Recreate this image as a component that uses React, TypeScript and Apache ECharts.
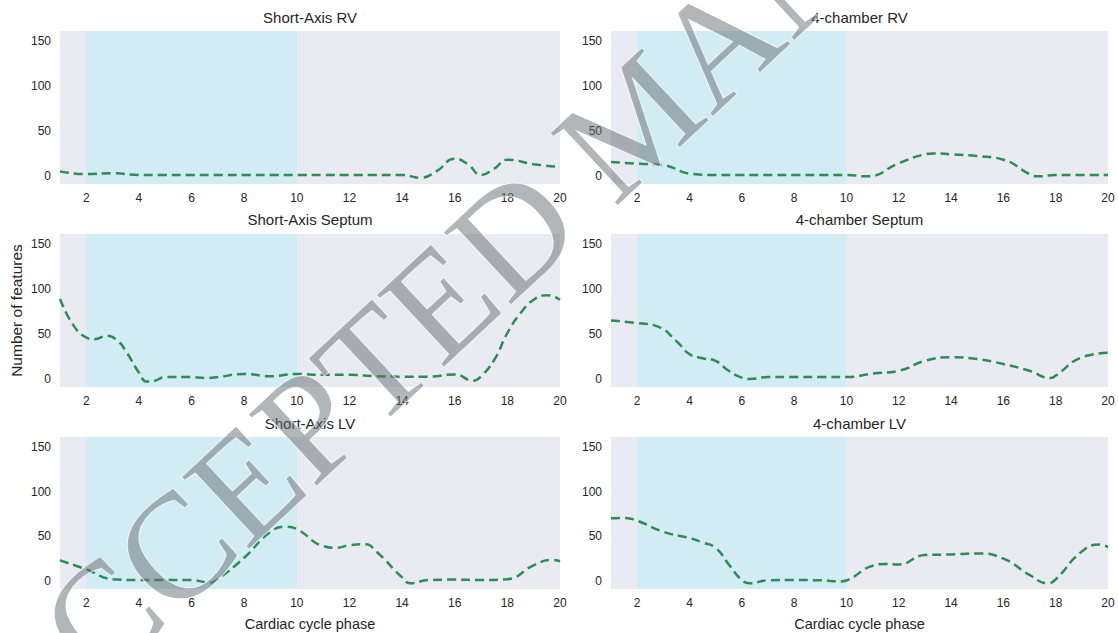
import React, { useEffect, useRef } from "react";
import * as echarts from "echarts";

// ---- data ----
const titles = [
  "Short-Axis RV",
  "4-chamber RV",
  "Short-Axis Septum",
  "4-chamber Septum",
  "Short-Axis LV",
  "4-chamber LV",
];

const phaseTicks = [2, 4, 6, 8, 10, 12, 14, 16, 18, 20];
const featureTicks = [0, 50, 100, 150];
const highlightPhases = [2, 10];

const saRvX = [1, 2, 3, 4, 5, 6, 7, 8, 9, 10, 11, 12, 13, 14, 14.7, 15.3, 16, 16.5, 17, 17.5, 18, 19, 20];
const saRvY = [5, 2, 3, 1, 1, 1, 1, 1, 1, 1, 1, 1, 1, 1, -2, 5, 19, 13, 1, 8, 18, 13, 10];

const chRvX = [1, 2, 3, 4, 5, 6, 7, 8, 9, 10, 10.8, 12, 13, 13.3, 14, 15, 16, 17, 17.3, 18, 19, 20];
const chRvY = [15.5, 13.6, 12, 2.6, 1, 1, 1, 1, 1, 1, -0.5, 14, 24, 25, 24, 22, 18, 2, -0.5, 1, 1, 1];

const saSeX = [1, 1.5, 2, 2.3, 2.8, 3.2, 3.5, 4, 4.3, 4.6, 5, 6, 6.5, 7, 8, 9, 10, 11, 12, 13, 14, 15, 16, 16.7, 17, 17.5, 18, 18.5, 19, 19.5, 20];
const saSeY = [89, 60, 46, 44, 48, 42, 31, 7, -3, -2, 2, 2, 1, 2, 5.5, 3, 5.5, 4.5, 4.5, 3, 2.5, 2.5, 5, -2, 3, 21, 51, 73, 88, 93, 88];

const chSeX = [1, 2, 2.8, 3.5, 4, 4.5, 5, 5.5, 6, 6.3, 7, 8, 9, 10, 11, 12, 13, 14, 15, 16, 17, 17.8, 18, 19, 20];
const chSeY = [65, 62, 58, 42, 27.5, 23, 20, 9, 1.5, 0, 2, 2, 2, 2, 6, 9, 20, 24, 22, 16.5, 9, 1, 3.7, 24, 29];

const saLvX = [1, 2, 3, 4, 5, 6, 6.7, 7, 8, 9, 9.6, 10, 11, 11.5, 12, 12.6, 13, 14, 14.3, 15, 16, 17, 18, 19, 19.7, 20];
const saLvY = [23, 13, 2, 1, 1, 1, -2, 2, 26, 55, 60.7, 58, 39, 37, 40, 41, 33.5, 4, -2.6, 1, 1.5, 1, 2, 17.5, 23.5, 22];

const chLvX = [1, 1.5, 2, 3, 4, 4.5, 5, 5.5, 6, 6.3, 7, 8, 9, 9.8, 10, 11, 11.5, 12, 13, 14, 15, 16, 17, 17.7, 18, 19, 19.7, 20];
const chLvY = [70, 70.5, 67.4, 55, 48, 43, 37, 18.5, 1, -2.6, 0.7, 1, 0.7, -0.5, 0.5, 17, 19, 18.5, 29, 29.6, 30.7, 25, 6.7, -2.6, 1.8, 33, 40.7, 37.8];

const panelX = [saRvX, chRvX, saSeX, chSeX, saLvX, chLvX];
const panelY = [saRvY, chRvY, saSeY, chSeY, saLvY, chLvY];

const xAxisName = "Cardiac cycle phase";
const yAxisName = "Number of features";
const watermark = "ACCEPTED MANUSCRIPT";

// ---- layout ----
const cols = [
  { left: 60, width: 500 },
  { left: 611, width: 497 },
];
const rows = [
  { top: 31, height: 153, titleY: 18 },
  { top: 234, height: 153, titleY: 220 },
  { top: 437, height: 152, titleY: 424 },
];

const FONT = "'Liberation Sans', Arial, sans-serif";
const TEXT = "#262626";

export default function App() {
  const ref = useRef<HTMLDivElement>(null);

  useEffect(() => {
    if (!ref.current) return;
    const chart = echarts.init(ref.current, undefined, { renderer: "svg" });

    const grids: any[] = [];
    const xAxes: any[] = [];
    const yAxes: any[] = [];
    const series: any[] = [];
    const title: any[] = [];

    for (let i = 0; i < 6; i++) {
      const r = rows[Math.floor(i / 2)];
      const c = cols[i % 2];
      const isBottom = Math.floor(i / 2) === 2;
      const isMidLeft = i === 2;
      grids.push({
        left: c.left,
        top: r.top,
        width: c.width,
        height: r.height,
        show: true,
        backgroundColor: "#EAEAF2",
        borderWidth: 0,
      });
      xAxes.push({
        type: "value",
        gridIndex: i,
        min: 1,
        max: 20,
        axisLine: { show: false },
        axisTick: { show: false },
        splitLine: { show: false },
        axisLabel: {
          customValues: phaseTicks,
          color: TEXT,
          fontSize: 12,
          fontFamily: FONT,
          margin: 8,
        },
        name: isBottom ? xAxisName : "",
        nameLocation: "middle",
        nameGap: 27,
        nameTextStyle: { color: TEXT, fontSize: 14.5, fontFamily: FONT },
      });
      yAxes.push({
        type: "value",
        gridIndex: i,
        min: -9,
        max: 161,
        axisLine: { show: false },
        axisTick: { show: false },
        splitLine: { show: false },
        axisLabel: {
          customValues: featureTicks,
          color: TEXT,
          fontSize: 12,
          fontFamily: FONT,
          margin: 9,
        },
        name: isMidLeft ? yAxisName : "",
        nameLocation: "middle",
        nameGap: 36,
        nameTextStyle: { color: TEXT, fontSize: 15.5, fontFamily: FONT },
      });
      const data = panelX[i].map((x, k) => [x, panelY[i][k]]);
      series.push({
        type: "line",
        xAxisIndex: i,
        yAxisIndex: i,
        data,
        smooth: 0.5,
        showSymbol: false,
        lineStyle: { color: "#2E8B57", width: 2.5, type: [9, 5] },
        markArea: {
          silent: true,
          itemStyle: { color: "#D2ECF3" },
          data: [[{ xAxis: highlightPhases[0] }, { xAxis: highlightPhases[1] }]],
        },
      });
      title.push({
        text: titles[i],
        left: c.left + c.width / 2,
        top: r.titleY - 8,
        textAlign: "center",
        padding: 0,
        textStyle: { color: TEXT, fontSize: 15, fontWeight: "normal", fontFamily: FONT },
      });
    }

    chart.setOption({
      animation: false,
      backgroundColor: "#ffffff",
      title,
      grid: grids,
      xAxis: xAxes,
      yAxis: yAxes,
      series,
      graphic: [
        {
          type: "text",
          x: 636,
          y: 118,
          rotation: (43 * Math.PI) / 180,
          z: 100,
          silent: true,
          style: {
            text: watermark,
            font: "150px 'Liberation Serif', 'Times New Roman', serif",
            textAlign: "center",
            textVerticalAlign: "middle",
            fill: "rgba(100,110,115,0.5)",
            stroke: "rgba(255,255,255,0.8)",
            lineWidth: 1.5,
          },
        },
      ],
    });

    return () => chart.dispose();
  }, []);

  return (
    <div
      ref={ref}
      style={{ position: "absolute", left: 0, top: 0, width: 1118, height: 633, background: "#fff" }}
    />
  );
}
